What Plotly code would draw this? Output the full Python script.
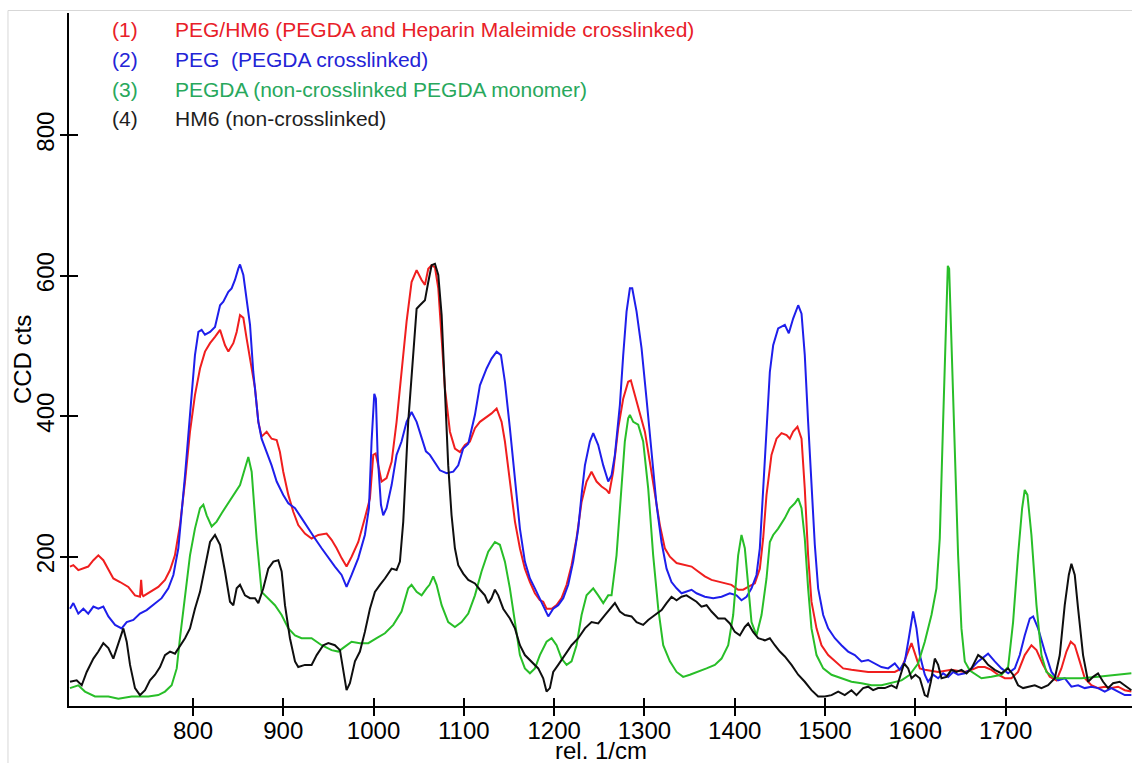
import plotly.graph_objects as go

# Raman spectra, relative wavenumber (1/cm) vs CCD counts
RED_WN = [663.8, 667.5, 673.0, 678.6, 684.0, 689.7, 695.2, 700.7, 706.3, 711.8, 719.2, 728.4, 735.8, 741.3, 742.6, 743.8,
          745.0, 752.4, 761.6, 769.0, 774.6, 780.0, 785.6, 791.2, 796.7, 802.2, 807.8, 813.3, 818.9, 824.4, 830.0, 835.5,
          839.2, 844.7, 848.4, 852.1, 855.8, 859.5, 863.2, 868.7, 872.4, 876.0, 881.6, 887.1, 892.7, 896.3, 900.0, 905.6,
          911.1, 916.6, 924.0, 931.4, 938.8, 948.0, 953.5, 959.1, 964.6, 970.1, 975.7, 983.1, 990.4, 996.0, 999.7, 1002.3,
          1005.2, 1008.9, 1014.4, 1020.0, 1025.5, 1031.0, 1036.6, 1042.1, 1047.7, 1053.2, 1056.9, 1060.6, 1064.3, 1068.0,
          1071.7, 1075.4, 1079.0, 1084.6, 1090.1, 1095.7, 1101.2, 1106.7, 1112.3, 1117.8, 1123.3, 1130.7, 1136.3, 1141.8,
          1145.5, 1151.0, 1156.6, 1162.1, 1167.6, 1173.2, 1178.7, 1184.2, 1187.9, 1191.6, 1197.2, 1202.7, 1208.2, 1213.8,
          1219.3, 1224.8, 1230.4, 1235.9, 1241.4, 1247.0, 1252.5, 1258.0, 1261.0, 1265.4, 1271.0, 1276.5, 1282.0, 1285.0,
          1289.4, 1295.0, 1300.5, 1306.0, 1311.6, 1317.1, 1322.6, 1328.2, 1335.6, 1344.8, 1352.2, 1359.5, 1366.9, 1374.3,
          1381.7, 1389.1, 1396.4, 1403.8, 1409.4, 1414.9, 1422.3, 1427.8, 1431.5, 1435.2, 1440.7, 1446.3, 1451.8, 1457.4,
          1461.0, 1464.7, 1469.5, 1474.0, 1477.6, 1481.3, 1485.0, 1490.6, 1496.1, 1503.5, 1510.9, 1520.1, 1529.3, 1547.8,
          1566.2, 1577.3, 1584.7, 1590.2, 1595.8, 1600.2, 1605.0, 1610.5, 1625.3, 1640.0, 1654.8, 1662.2, 1669.6, 1677.0,
          1684.3, 1691.7, 1699.1, 1706.5, 1713.8, 1721.2, 1728.6, 1734.2, 1741.5, 1748.9, 1756.3, 1761.8, 1767.4, 1772.2,
          1776.6, 1782.1, 1787.7, 1795.0, 1802.4, 1809.8, 1817.2, 1824.6, 1832.0, 1839.3]
RED_CTS = [186, 188, 181, 184, 186, 195, 202, 195, 181, 169, 164, 157, 145, 143, 167, 146,
           144, 150, 157, 167, 181, 202, 245, 307, 378, 430, 468, 492, 504, 513, 523, 501,
           492, 504, 520, 544, 540, 510, 480, 440, 392, 371, 378, 368, 366, 349, 321, 288,
           264, 245, 233, 226, 231, 233, 224, 212, 198, 186, 200, 221, 255, 283, 345, 347,
           330, 307, 312, 335, 392, 463, 535, 591, 608, 594, 587, 610, 615, 612,
           582, 511, 440, 378, 354, 349, 359, 364, 383, 392, 397, 404, 411, 392,
           364, 307, 250, 212, 183, 164, 148, 138, 136, 126, 126, 131, 141, 160,
           188, 226, 278, 307, 321, 307, 300, 295, 290, 321, 383, 425, 449, 451,
           430, 402, 378, 335, 288, 245, 212, 200, 191, 188, 186, 179, 172, 167,
           165, 162, 160, 153, 153, 157, 162, 183, 226, 288, 345, 368, 376, 373,
           368, 378, 385, 368, 297, 202, 136, 98, 74, 60, 51, 41, 39, 36,
           36, 36, 41, 58, 77, 60, 41, 39, 36, 39, 36, 39, 43, 43,
           39, 32, 27, 27, 36, 60, 74, 67, 46, 29, 24, 41, 65, 79,
           74, 51, 27, 17, 13, 15, 13, 15, 10, 8]

BLUE_WN = [663.8, 667.5, 673.0, 678.6, 684.0, 689.7, 695.2, 700.7, 706.3, 713.7, 721.0, 726.6, 734.0, 741.3, 748.7, 756.1,
           765.3, 772.7, 778.3, 783.8, 787.5, 791.2, 796.7, 802.2, 806.0, 809.6, 813.3, 818.9, 824.4, 830.0, 833.6, 839.2,
           842.8, 846.5, 850.2, 852.1, 855.8, 859.5, 863.2, 866.8, 872.4, 876.0, 881.6, 887.1, 892.7, 900.0, 905.6, 913.0,
           920.3, 927.7, 935.1, 942.5, 949.9, 957.2, 964.6, 970.1, 975.7, 983.1, 990.4, 994.9, 997.8, 1000.8, 1002.6, 1004.5,
           1008.2, 1010.7, 1014.4, 1020.0, 1025.5, 1031.0, 1036.6, 1042.1, 1047.7, 1053.2, 1058.0, 1062.4, 1068.0, 1073.5,
           1080.9, 1088.3, 1093.8, 1099.3, 1104.9, 1112.3, 1117.8, 1125.2, 1130.7, 1136.3, 1141.1, 1145.5, 1151.0, 1156.6,
           1162.1, 1167.6, 1173.2, 1178.7, 1184.2, 1189.8, 1193.5, 1199.0, 1204.5, 1210.1, 1215.6, 1221.1, 1226.7, 1230.4,
           1234.1, 1239.6, 1243.3, 1248.8, 1254.4, 1259.9, 1263.6, 1267.3, 1272.8, 1276.5, 1280.2, 1283.9, 1286.5, 1291.3,
           1296.8, 1302.3, 1307.9, 1313.4, 1318.9, 1324.5, 1330.0, 1335.6, 1341.1, 1352.2, 1357.7, 1366.9, 1376.2, 1385.4,
           1394.6, 1402.0, 1407.5, 1413.1, 1418.6, 1424.1, 1427.8, 1431.5, 1435.2, 1438.9, 1442.6, 1448.1, 1455.5, 1459.9,
           1464.7, 1470.3, 1474.0, 1477.6, 1481.3, 1485.0, 1488.7, 1492.4, 1498.0, 1503.5, 1510.9, 1518.2, 1525.6, 1533.0,
           1540.4, 1547.8, 1555.1, 1562.5, 1569.9, 1577.3, 1582.8, 1588.4, 1592.8, 1597.6, 1601.3, 1605.0, 1610.5, 1614.2,
           1619.8, 1625.3, 1630.8, 1636.4, 1641.9, 1647.4, 1654.8, 1662.2, 1669.6, 1680.6, 1688.0, 1695.4, 1702.8, 1710.2,
           1715.7, 1721.2, 1726.8, 1730.5, 1736.0, 1743.4, 1750.8, 1758.1, 1765.5, 1772.9, 1780.3, 1787.7, 1795.0, 1802.4,
           1809.8, 1817.2, 1824.6, 1832.0, 1839.3]
BLUE_CTS = [126, 134, 119, 126, 119, 129, 126, 129, 115, 103, 98, 107, 110, 119, 124, 131,
            141, 155, 174, 212, 259, 316, 402, 487, 520, 523, 516, 520, 527, 558, 563, 577,
            582, 594, 610, 616, 601, 568, 530, 463, 392, 368, 349, 330, 307, 288, 276, 269,
            255, 240, 226, 212, 198, 186, 174, 157, 174, 198, 231, 269, 364, 432, 425, 345,
            274, 259, 269, 302, 345, 364, 392, 406, 392, 368, 350, 345, 333, 323,
            319, 321, 330, 354, 361, 402, 444, 468, 482, 492, 487, 449, 383, 307,
            240, 193, 169, 155, 141, 126, 115, 126, 131, 141, 160, 193, 240, 288,
            330, 364, 376, 359, 330, 307, 316, 345, 416, 487, 549, 582, 582, 549,
            497, 425, 345, 274, 221, 183, 164, 155, 148, 153, 148, 143, 141, 143,
            148, 145, 138, 143, 155, 174, 212, 297, 392, 463, 501, 525, 530, 518,
            539, 558, 546, 487, 392, 297, 217, 155, 117, 98, 84, 74, 65, 60,
            51, 53, 48, 43, 41, 48, 39, 51, 84, 122, 98, 60, 32, 22,
            32, 27, 34, 29, 36, 32, 34, 41, 51, 62, 51, 41, 34, 41,
            60, 88, 112, 115, 98, 65, 36, 24, 27, 15, 17, 13, 15, 13,
            8, 13, 8, 3, 3]

GREEN_WN = [663.8, 673.0, 680.4, 691.5, 706.3, 717.4, 732.1, 750.6, 761.6, 769.0, 776.4, 782.0, 785.6, 791.2, 796.7, 802.2,
            807.8, 811.5, 815.2, 820.7, 826.2, 831.8, 839.2, 846.5, 852.1, 857.6, 861.3, 865.0, 870.5, 876.0, 883.4, 890.8,
            898.2, 905.6, 913.0, 920.3, 931.4, 942.5, 953.5, 960.9, 968.3, 975.7, 984.9, 994.2, 1003.4, 1012.6, 1021.8, 1031.0,
            1038.4, 1042.1, 1047.7, 1053.2, 1058.7, 1062.0, 1066.1, 1069.8, 1075.4, 1082.7, 1090.1, 1097.5, 1104.9, 1112.3,
            1119.6, 1127.0, 1134.4, 1139.9, 1145.5, 1151.0, 1156.6, 1162.1, 1167.6, 1173.2, 1178.7, 1184.2, 1191.6, 1197.2,
            1202.7, 1208.2, 1213.8, 1219.3, 1224.8, 1230.4, 1235.9, 1243.3, 1248.8, 1254.4, 1259.9, 1263.6, 1269.1, 1274.7,
            1278.3, 1282.0, 1283.9, 1287.6, 1293.1, 1298.6, 1304.2, 1309.7, 1315.3, 1320.8, 1328.2, 1335.6, 1342.9, 1350.3,
            1359.5, 1368.8, 1378.0, 1385.4, 1392.8, 1398.3, 1403.8, 1407.5, 1411.2, 1414.9, 1418.6, 1424.1, 1429.7, 1435.2,
            1438.9, 1442.6, 1448.1, 1455.5, 1461.0, 1466.6, 1470.3, 1474.0, 1477.6, 1481.3, 1485.0, 1490.6, 1498.0, 1507.2,
            1518.2, 1529.3, 1540.4, 1551.5, 1562.5, 1573.6, 1584.7, 1593.9, 1603.1, 1610.5, 1617.9, 1623.4, 1627.1, 1630.8,
            1633.8, 1636.0, 1637.5, 1640.0, 1643.7, 1647.4, 1651.1, 1654.8, 1660.4, 1673.3, 1684.3, 1695.4, 1702.8, 1708.3,
            1713.8, 1718.3, 1721.2, 1724.2, 1728.6, 1734.2, 1739.7, 1745.2, 1754.5, 1784.0, 1802.4, 1820.9, 1839.3]
GREEN_CTS = [13, 17, 8, 1, 1, -2, 1, 1, 3, 8, 17, 41, 84, 145, 202, 240,
             269, 274, 259, 243, 250, 262, 276, 290, 302, 326, 342, 321, 226, 150, 141, 131,
             117, 98, 88, 84, 84, 74, 67, 65, 72, 79, 77, 77, 84, 91, 103, 122,
             155, 160, 150, 145, 155, 160, 172, 160, 131, 107, 100, 107, 119, 145,
             179, 207, 221, 217, 193, 155, 107, 60, 41, 34, 41, 60, 79, 84,
             74, 55, 46, 51, 74, 117, 145, 155, 145, 134, 145, 145, 202, 297,
             364, 397, 402, 392, 388, 364, 297, 202, 126, 74, 51, 36, 29, 32,
             36, 41, 46, 55, 74, 117, 202, 231, 212, 155, 107, 88, 117, 169,
             221, 231, 240, 255, 269, 276, 283, 269, 226, 155, 98, 60, 41, 32,
             27, 22, 20, 17, 17, 20, 24, 32, 48, 79, 117, 155, 226, 392,
             535, 614, 610, 511, 345, 202, 98, 51, 38, 27, 29, 32, 43, 107,
             202, 269, 295, 288, 231, 131, 60, 36, 27, 27, 29, 32, 34]

BLACK_WN = [663.8, 671.2, 676.8, 682.3, 689.7, 695.2, 700.7, 706.3, 711.8, 717.4, 722.9, 726.6, 730.3, 735.8, 741.3, 746.9,
            752.4, 758.0, 763.5, 769.0, 774.6, 780.1, 785.6, 791.2, 796.7, 802.2, 807.8, 813.3, 818.9, 824.4, 830.0, 835.5,
            841.0, 844.7, 848.4, 852.1, 857.6, 863.2, 868.7, 872.4, 877.9, 883.4, 889.0, 894.5, 898.2, 901.9, 907.4, 913.0,
            916.6, 924.0, 931.4, 937.0, 944.3, 949.9, 957.2, 962.8, 966.5, 970.1, 973.8, 979.4, 984.9, 990.4, 996.0, 1001.5,
            1007.1, 1012.6, 1020.0, 1025.5, 1029.2, 1032.9, 1038.4, 1044.0, 1047.7, 1051.3, 1056.9, 1060.6, 1064.3, 1068.0,
            1071.7, 1075.4, 1079.0, 1082.7, 1086.4, 1090.1, 1093.8, 1099.3, 1104.9, 1112.3, 1117.8, 1123.3, 1127.0, 1130.7,
            1134.4, 1138.1, 1143.6, 1151.0, 1156.6, 1162.1, 1167.6, 1175.0, 1182.4, 1187.9, 1191.6, 1195.3, 1199.0, 1204.5,
            1211.9, 1219.3, 1226.7, 1234.1, 1241.4, 1248.8, 1256.2, 1261.7, 1267.3, 1272.8, 1278.3, 1285.7, 1291.3, 1298.6,
            1304.2, 1311.6, 1319.0, 1324.5, 1330.0, 1335.6, 1341.1, 1346.6, 1352.2, 1357.7, 1363.2, 1368.8, 1374.3, 1381.7,
            1389.1, 1394.6, 1400.1, 1405.7, 1411.2, 1414.9, 1420.4, 1426.0, 1433.4, 1438.9, 1444.4, 1450.0, 1455.5, 1462.9,
            1470.3, 1477.6, 1485.0, 1492.4, 1499.8, 1507.2, 1514.6, 1521.9, 1529.3, 1534.9, 1542.2, 1547.8, 1553.3, 1558.8,
            1566.2, 1573.6, 1579.2, 1582.8, 1587.6, 1592.1, 1595.8, 1600.2, 1605.0, 1610.5, 1613.5, 1617.2, 1621.6, 1625.3,
            1629.0, 1634.5, 1640.0, 1645.6, 1651.1, 1656.7, 1662.2, 1669.6, 1675.1, 1680.6, 1688.0, 1695.4, 1702.8, 1708.3,
            1713.8, 1719.4, 1724.9, 1732.3, 1739.7, 1747.1, 1754.5, 1760.0, 1765.5, 1770.0, 1772.9, 1776.6, 1780.3, 1785.8,
            1791.4, 1796.9, 1802.4, 1808.0, 1813.5, 1819.0, 1826.4, 1832.0, 1839.3]
BLACK_CTS = [22, 24, 17, 36, 55, 65, 77, 70, 55, 77, 98, 79, 46, 13, 3, 10,
             24, 32, 43, 60, 65, 62, 72, 84, 98, 126, 150, 183, 221, 231, 217, 179,
             136, 131, 155, 160, 145, 141, 141, 134, 155, 183, 193, 195, 179, 131, 84, 51,
             43, 46, 46, 60, 74, 77, 74, 67, 36, 10, 20, 51, 65, 93, 126, 150,
             160, 169, 183, 181, 193, 250, 392, 497, 553, 558, 565, 591, 615, 617,
             601, 544, 440, 330, 259, 212, 188, 176, 167, 162, 153, 145, 134, 141,
             153, 145, 126, 112, 98, 74, 60, 51, 41, 27, 8, 13, 36, 46,
             60, 74, 84, 98, 107, 105, 117, 126, 134, 122, 117, 115, 107, 103,
             110, 117, 124, 134, 143, 138, 143, 145, 141, 136, 129, 131, 122, 112,
             112, 105, 93, 88, 100, 105, 93, 84, 81, 84, 74, 65, 58, 46,
             32, 22, 10, 1, 1, 3, 8, 3, 10, 3, 13, 15, 10, 13,
             13, 17, 13, 27, 48, 41, 27, 32, 27, 3, 1, 22, 55, 46,
             27, 29, 39, 36, 39, 34, 41, 60, 55, 46, 39, 34, 41, 32,
             17, 13, 15, 17, 13, 17, 27, 60, 131, 174, 190, 174, 126, 60,
             22, 29, 34, 22, 13, 20, 22, 17, 10]

X_TICKS = [800, 900, 1000, 1100, 1200, 1300, 1400, 1500, 1600, 1700]
Y_TICKS = [200, 400, 600, 800]
X_RANGE = [662.7, 1840.0]
Y_RANGE = [-12.5, 974.0]

X_TITLE = "rel. 1/cm"
Y_TITLE = "CCD cts"

LEGEND_NUMS = ["(1)", "(2)", "(3)", "(4)"]
LEGEND_TEXT = ["PEG/HM6 (PEGDA and Heparin Maleimide crosslinked)",
               "PEG\u00a0 (PEGDA crosslinked)",
               "PEGDA (non-crosslinked PEGDA monomer)",
               "HM6 (non-crosslinked)"]
LEGEND_COLORS = ["rgb(232,32,40)", "rgb(36,36,214)", "rgb(40,168,92)", "rgb(30,30,30)"]

LINE_COLORS = ["rgb(240,30,30)", "rgb(30,30,235)", "rgb(40,190,40)", "rgb(15,15,15)"]

FONT = "Arial, 'Liberation Sans', sans-serif"

fig = go.Figure()
series = [(RED_WN, RED_CTS), (BLUE_WN, BLUE_CTS), (GREEN_WN, GREEN_CTS), (BLACK_WN, BLACK_CTS)]
for (wn, cts), col, name in zip(series, LINE_COLORS, LEGEND_TEXT):
    fig.add_trace(go.Scatter(x=wn, y=cts, mode="lines", name=name,
                             line=dict(color=col, width=2), showlegend=False,
                             hoverinfo="x+y"))

# empty trace on the secondary axes so their inward ticks are drawn
fig.add_trace(go.Scatter(x=[], y=[], xaxis="x2", yaxis="y2", showlegend=False))

axis_common = dict(showgrid=False, zeroline=False, showline=True, linecolor="black",
                   linewidth=2, tickcolor="black", tickwidth=2)

fig.update_layout(
    width=1132, height=763,
    margin=dict(l=69, r=0, t=13, b=57, autoexpand=False),
    paper_bgcolor="white", plot_bgcolor="white",
    font=dict(family=FONT, size=24, color="black"),
    xaxis=dict(range=X_RANGE, tickvals=X_TICKS, ticks="outside", ticklen=8,
               ticklabelstandoff=-6,
               tickfont=dict(size=24), automargin=False, **axis_common),
    yaxis=dict(range=Y_RANGE, tickvals=Y_TICKS, ticks="outside", ticklen=7,
               tickangle=-90, ticklabelstandoff=-4,
               tickfont=dict(size=24), automargin=False, **axis_common),
    xaxis2=dict(range=X_RANGE, tickvals=X_TICKS, ticks="inside", ticklen=8,
                overlaying="x", anchor="y", side="bottom", showticklabels=False,
                **axis_common),
    yaxis2=dict(range=Y_RANGE, tickvals=Y_TICKS, ticks="inside", ticklen=9,
                overlaying="y", anchor="x", side="left", showticklabels=False,
                **axis_common),
)

# axis titles: x title at the very bottom edge, y title rotated at the far left
fig.add_annotation(x=0.5, y=-0.0823, xref="paper", yref="paper", text=X_TITLE, showarrow=False,
                   xanchor="center", yanchor="bottom", yshift=-3,
                   font=dict(size=24, color="black", family=FONT))
fig.add_annotation(x=-0.0437, y=0.5, xref="paper", yref="paper", text=Y_TITLE, showarrow=False,
                   textangle=-90, xanchor="center", yanchor="middle",
                   font=dict(size=24, color="black", family=FONT))

# numbered series key in the upper left
row_y = [0.9755, 0.9329, 0.8903, 0.8478]
for num, txt, col, yy in zip(LEGEND_NUMS, LEGEND_TEXT, LEGEND_COLORS, row_y):
    fig.add_annotation(x=0.0386, y=yy, xref="paper", yref="paper", text=num, showarrow=False,
                       xanchor="left", yanchor="middle", font=dict(size=21, color=col, family=FONT))
    fig.add_annotation(x=0.0978, y=yy, xref="paper", yref="paper", text=txt, showarrow=False,
                       xanchor="left", yanchor="middle", font=dict(size=21, color=col, family=FONT))

# thin grey frame along the top and left edges
fig.add_shape(type="line", xref="paper", yref="paper", x0=-0.0574, x1=1.0, y0=1.0036, y1=1.0036,
              line=dict(color="rgb(215,215,215)", width=1))
fig.add_shape(type="line", xref="paper", yref="paper", x0=-0.0574, x1=-0.0574, y0=1.0036, y1=-0.09,
              line=dict(color="rgb(215,215,215)", width=1))

fig.write_html("out.html")
